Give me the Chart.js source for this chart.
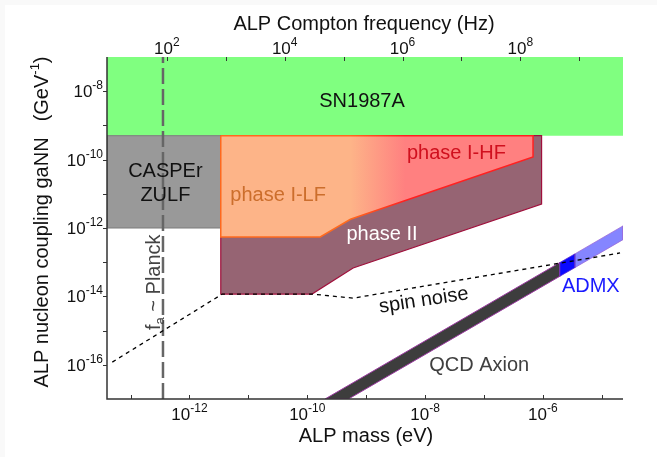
<!DOCTYPE html>
<html>
<head>
<meta charset="utf-8">
<script src="https://cdn.jsdelivr.net/npm/chart.js@4.4.1/dist/chart.umd.min.js"></script>
<style>
  html, body { margin: 0; padding: 0; background: #f9f9f9; }
  #frame { position: absolute; left: 5px; top: 5px; width: 652px; height: 452px; background: #fff; }
  #wrap { position: absolute; left: 0; top: 0; width: 657px; height: 457px; }
</style>
</head>
<body>
<div id="frame"></div>
<div id="wrap"><canvas id="chart" width="657" height="457"></canvas></div>
<script>
// ALP mass (eV) -> Compton frequency (Hz)
const hzPerEv = 2.418e14;

// axis extents
const massRange = [3.98e-14, 2.29e-5];
const couplingRange = [1e-17, 1e-7];

// tick exponents (labelled ones)
const massTickExp = [-12, -10, -8, -6];
const freqTickExp = [2, 4, 6, 8];
const couplingTickExp = [-16, -14, -12, -10, -8];

// regions, as [mass, coupling] corners
const sn1987a = [[3.98e-14, 5e-10], [2.29e-5, 5e-10], [2.29e-5, 1e-7], [3.98e-14, 1e-7], [3.98e-14, 5e-10]];
const casperZulf = [[3.98e-14, 1e-12], [3.4e-12, 1e-12], [3.4e-12, 5e-10], [3.98e-14, 5e-10], [3.98e-14, 1e-12]];
const phaseII = [[3.4e-12, 5e-10], [3.4e-12, 1.17e-14], [1.2e-10, 1.17e-14], [6.0e-10, 6.8e-14], [9.5e-7, 5.0e-12], [9.5e-7, 5e-10], [3.4e-12, 5e-10]];
const phaseI = [[3.4e-12, 5e-10], [3.4e-12, 5.5e-13], [1.66e-10, 5.5e-13], [5.4e-10, 1.8e-12], [6.8e-7, 1.2e-10], [6.8e-7, 5e-10], [3.4e-12, 5e-10]];
const qcdAxion = [[2.0e-10, 1e-17], [1.95e-6, 9.8e-14], [1.95e-6, 3.9e-14], [5.0e-10, 1e-17], [2.0e-10, 1e-17]];
const admx = [[1.95e-6, 9.8e-14], [3.47e-6, 1.74e-13], [3.47e-6, 6.9e-14], [1.95e-6, 3.9e-14], [1.95e-6, 9.8e-14]];
const admxReach = [[3.47e-6, 1.74e-13], [2.29e-5, 1.15e-12], [2.29e-5, 4.57e-13], [3.47e-6, 6.9e-14], [3.47e-6, 1.74e-13]];

// lines
const spinNoise = [[4.9e-14, 1.2e-16], [3.6e-12, 1.17e-14], [1.2e-10, 1.17e-14], [6.0e-10, 8.9e-15], [2.04e-5, 1.86e-13]];
const planckMass = 3.55e-13;

// orange -> red transition of phase I
const gradFrom = 5.4e-10, gradTo = 4.6e-9;

const FONT = '"Liberation Sans", Arial, Helvetica, sans-serif';

const pts = arr => arr.map(p => ({ x: p[0], y: p[1] }));

function phaseGradient(c, c0, c1) {
    const chart = c.chart;
    if (!chart.chartArea) return c0;
    const xs = chart.scales.x;
    const g = chart.ctx.createLinearGradient(xs.getPixelForValue(gradFrom), 0, xs.getPixelForValue(gradTo), 0);
    g.addColorStop(0, c0);
    g.addColorStop(1, c1);
    return g;
}

function region(data, fill, border, width) {
    return {
        data: pts(data),
        fill: 'shape',
        backgroundColor: fill,
        borderColor: border,
        borderWidth: width,
        pointRadius: 0,
        borderJoinStyle: 'miter'
    };
}

/**
 * Etiquetas dentro de la gráfica
 */
const regionLabels = [
    { text: 'SN1987A', x: 8.5e-10, y: 5.1e-9, color: '#111' },
    { text: 'CASPEr', x: 3.9e-13, y: 4.4e-11, color: '#111' },
    { text: 'ZULF', x: 3.9e-13, y: 8.7e-12, color: '#111' },
    { text: 'phase I-LF', x: 3.2e-11, y: 9.1e-12, color: '#cc6e2c' },
    { text: 'phase I-HF', x: 3.4e-8, y: 1.55e-10, color: '#d0101e' },
    { text: 'phase II', x: 1.86e-9, y: 6.6e-13, color: '#ffffff' },
    { text: 'spin noise', x: 9.5e-9, y: 7.6e-15, color: '#111', angle: -8.6 },
    { text: 'ADMX', x: 6.5e-6, y: 2.0e-14, color: '#1a1aff' },
    { text: 'QCD Axion', x: 8.3e-8, y: 9.8e-17, color: '#404040' }
];

function drawPow(ctx, exp, x, y, align) {
    const base = '10', sup = String(exp);
    ctx.font = '17px ' + FONT;
    const wb = ctx.measureText(base).width;
    ctx.font = '12px ' + FONT;
    const ws = ctx.measureText(sup).width;
    const left = align === 'right' ? x - wb - ws : x - (wb + ws) / 2;
    ctx.textAlign = 'left';
    ctx.textBaseline = 'alphabetic';
    ctx.font = '17px ' + FONT;
    ctx.fillText(base, left, y);
    ctx.font = '12px ' + FONT;
    ctx.fillText(sup, left + wb, y - 8);
}

function decades(lo, hi) {
    const out = [];
    for (let e = Math.ceil(Math.log10(lo)); e <= Math.floor(Math.log10(hi)); e++) out.push(e);
    return out;
}

const labelPlugin = {
    id: 'regionLabels',
    afterDatasetsDraw(chart) {
        const { ctx, scales: { x, y } } = chart;
        ctx.save();
        ctx.font = '20px ' + FONT;
        ctx.textAlign = 'center';
        ctx.textBaseline = 'middle';
        regionLabels.forEach(l => {
            ctx.save();
            ctx.translate(x.getPixelForValue(l.x), y.getPixelForValue(l.y));
            if (l.angle) ctx.rotate(l.angle * Math.PI / 180);
            ctx.fillStyle = l.color;
            ctx.fillText(l.text, 0, 0);
            ctx.restore();
        });

        // f_a ~ Planck, vertical
        ctx.translate(x.getPixelForValue(2.45e-13), y.getPixelForValue(2.6e-14));
        ctx.rotate(-Math.PI / 2);
        ctx.fillStyle = '#444';
        ctx.textAlign = 'left';
        ctx.textBaseline = 'alphabetic';
        ctx.font = '20px ' + FONT;
        const wf = ctx.measureText('f').width;
        const rest = ' ~ Planck';
        const wr = ctx.measureText(rest).width;
        ctx.font = '13px ' + FONT;
        const wa = ctx.measureText('a').width;
        let px = -(wf + wa + wr) / 2;
        ctx.font = '20px ' + FONT;
        ctx.fillText('f', px, 7);
        ctx.font = '13px ' + FONT;
        ctx.fillText('a', px + wf, 11);
        ctx.font = '20px ' + FONT;
        ctx.fillText(rest, px + wf + wa, 7);
        ctx.restore();
    }
};

const axisPlugin = {
    id: 'axes',
    afterDraw(chart) {
        const { ctx, chartArea: a, scales: { x, x2, y } } = chart;
        ctx.save();
        ctx.strokeStyle = '#333';
        ctx.lineWidth = 1.5;
        ctx.beginPath();
        ctx.moveTo(a.left, a.top);
        ctx.lineTo(a.left, a.bottom);
        ctx.lineTo(a.right, a.bottom);
        ctx.stroke();

        ctx.lineWidth = 1;
        ctx.beginPath();
        decades(massRange[0], massRange[1]).forEach(e => {
            const px = Math.round(x.getPixelForValue(Math.pow(10, e))) + 0.5;
            if (px - a.left < 3 || a.right - px < 3) return;
            ctx.moveTo(px, a.bottom);
            ctx.lineTo(px, a.bottom - 4);
        });
        decades(massRange[0] * hzPerEv, massRange[1] * hzPerEv).forEach(e => {
            const px = Math.round(x2.getPixelForValue(Math.pow(10, e))) + 0.5;
            if (px - a.left < 3 || a.right - px < 3) return;
            ctx.moveTo(px, a.top);
            ctx.lineTo(px, a.top + 4);
        });
        decades(couplingRange[0], couplingRange[1]).forEach(e => {
            const py = Math.round(y.getPixelForValue(Math.pow(10, e))) + 0.5;
            if (py - a.top < 3 || a.bottom - py < 3) return;
            ctx.moveTo(a.left, py);
            ctx.lineTo(a.left - 4, py);
        });
        ctx.stroke();

        ctx.fillStyle = '#111';
        massTickExp.forEach(e => drawPow(ctx, e, x.getPixelForValue(Math.pow(10, e)), a.bottom + 21));
        freqTickExp.forEach(e => drawPow(ctx, e, x2.getPixelForValue(Math.pow(10, e)), a.top - 3));
        couplingTickExp.forEach(e => drawPow(ctx, e, a.left - 4, y.getPixelForValue(Math.pow(10, e)) + 6, 'right'));

        // axis titles
        ctx.font = '20px ' + FONT;
        ctx.textAlign = 'center';
        ctx.textBaseline = 'middle';
        ctx.fillText('ALP mass (eV)', (a.left + a.right) / 2 + 1, 436);
        ctx.fillText('ALP Compton frequency (Hz)', (a.left + a.right) / 2 - 1, 24);

        ctx.save();
        ctx.translate(41, 222);
        ctx.rotate(-Math.PI / 2);
        ctx.textAlign = 'left';
        ctx.textBaseline = 'alphabetic';
        const main = 'ALP nucleon coupling gaNN';
        const w1 = ctx.measureText(main).width;
        const w2 = ctx.measureText('(GeV').width;
        const w4 = ctx.measureText(')').width;
        ctx.font = '13px ' + FONT;
        const w3 = ctx.measureText('-1').width;
        const gap = 16;
        let s = -(w1 + gap + w2 + w3 + w4) / 2;
        ctx.font = '20px ' + FONT;
        ctx.fillText(main, s, 7);
        s += w1 + gap;
        ctx.fillText('(GeV', s, 7);
        ctx.font = '13px ' + FONT;
        ctx.fillText('-1', s + w2, -2);
        ctx.font = '20px ' + FONT;
        ctx.fillText(')', s + w2 + w3, 7);
        ctx.restore();

        ctx.restore();
    }
};

new Chart(document.getElementById('chart'), {
    type: 'line',
    data: {
        datasets: [
            {
                data: pts(spinNoise),
                borderColor: '#000',
                borderWidth: 1.3,
                borderDash: [4, 4],
                pointRadius: 0,
                fill: false
            },
            region(admx, '#0a0aff', '#5a2ad0', 0.8),
            region(admxReach, '#8585ff', '#9a6ad8', 0.8),
            region(qcdAxion, '#3d3d3d', '#9a3aa0', 1),
            {
                data: pts([[planckMass, couplingRange[0]], [planckMass, couplingRange[1]]]),
                borderColor: '#666',
                borderWidth: 2.5,
                borderDash: [16, 5],
                pointRadius: 0,
                fill: false
            },
            {
                data: pts(phaseI),
                fill: 'shape',
                backgroundColor: c => phaseGradient(c, '#fdb488', '#ff8080'),
                borderColor: c => phaseGradient(c, '#ff6a1e', '#ff2020'),
                borderWidth: 1.5,
                pointRadius: 0,
                borderJoinStyle: 'miter'
            },
            region(phaseII, '#966473', '#a0103c', 1.2),
            region(casperZulf, '#999999', '#7a7a7a', 1),
            region(sn1987a, '#80ff80', '#80ff80', 0)
        ]
    },
    options: {
        responsive: false,
        animation: false,
        layout: { padding: { left: 107, right: 34, top: 57, bottom: 58 } },
        scales: {
            x: { type: 'logarithmic', min: massRange[0], max: massRange[1], display: false },
            x2: { type: 'logarithmic', position: 'top', min: massRange[0] * hzPerEv, max: massRange[1] * hzPerEv, display: false },
            y: { type: 'logarithmic', min: couplingRange[0], max: couplingRange[1], display: false }
        },
        plugins: {
            legend: { display: false },
            tooltip: { enabled: false }
        }
    },
    plugins: [labelPlugin, axisPlugin]
});
</script>
</body>
</html>
